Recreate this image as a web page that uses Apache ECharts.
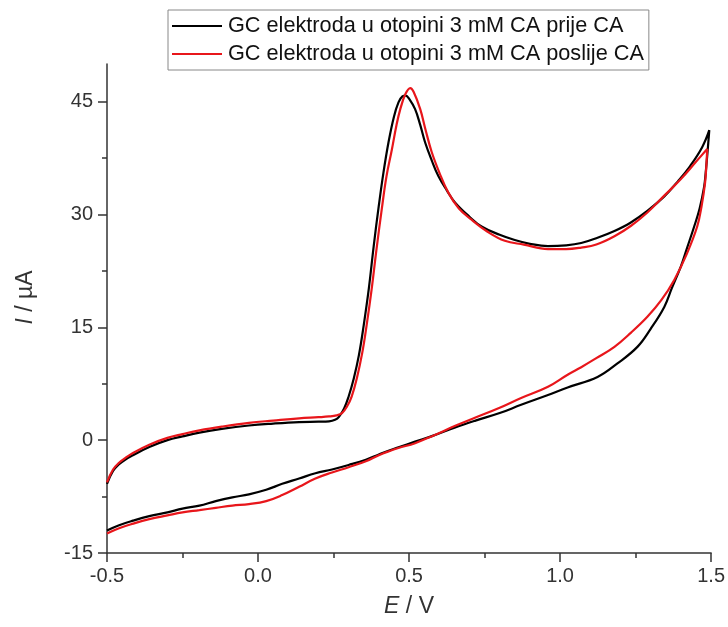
<!DOCTYPE html>
<html>
<head>
<meta charset="utf-8">
<script src="https://cdn.jsdelivr.net/npm/echarts@6/dist/echarts.min.js"></script>
<style>html,body{margin:0;padding:0;background:#fff}#c{width:728px;height:627px}</style>
</head>
<body>
<div id="c"></div>
<script>
// Series names
const seriesNames = ['GC elektroda u otopini 3 mM CA prije CA', 'GC elektroda u otopini 3 mM CA poslije CA'];

// E / V and I / µA pairs, in scan order (anodic sweep, then cathodic return)
const blackCV = [
  [-0.5,-5.8],[-0.48,-4.1],[-0.46,-3.2],[-0.44,-2.6],[-0.414,-2.0],[-0.36,-0.9],[-0.30,0.0],[-0.25,0.5],
  [-0.194,1.0],[-0.12,1.5],[-0.03,1.95],[0.05,2.2],[0.136,2.4],[0.2,2.45],[0.235,2.5],[0.255,2.7],
  [0.268,3.1],[0.285,4.2],[0.30,5.8],[0.317,8.2],[0.334,11.3],[0.35,15.3],[0.367,20.2],[0.383,25.8],
  [0.40,31.2],[0.415,35.5],[0.432,39.6],[0.45,43.0],[0.465,44.9],[0.478,45.7],[0.489,45.8],[0.5,45.4],
  [0.52,44.0],[0.537,41.9],[0.553,39.6],[0.575,37.2],[0.597,35.1],[0.625,33.2],[0.652,31.6],[0.7,29.7],
  [0.74,28.4],[0.8,27.3],[0.85,26.6],[0.9,26.1],[0.96,25.8],[1.02,25.9],[1.07,26.2],[1.124,26.9],
  [1.18,27.8],[1.233,28.9],[1.29,30.5],[1.345,32.4],[1.39,34.4],[1.43,36.4],[1.47,38.9],[1.494,41.2],
  [1.489,38.7],[1.482,35.5],[1.477,33.7],[1.462,30.8],[1.444,28.4],[1.42,25.5],[1.40,23.1],[1.37,20.2],
  [1.345,17.7],[1.30,14.8],[1.256,12.4],[1.19,10.2],[1.124,8.4],[1.025,7.0],[0.96,6.0],[0.871,4.7],
  [0.8,3.6],[0.72,2.6],[0.653,1.7],[0.58,0.6],[0.52,-0.2],[0.465,-0.95],[0.432,-1.4],[0.40,-1.9],
  [0.357,-2.6],[0.30,-3.3],[0.245,-3.9],[0.19,-4.4],[0.136,-5.1],[0.08,-5.8],[0.027,-6.6],[-0.03,-7.2],
  [-0.085,-7.6],[-0.14,-8.1],[-0.194,-8.7],[-0.25,-9.1],[-0.30,-9.6],[-0.36,-10.1],[-0.414,-10.7],
  [-0.46,-11.3],[-0.5,-12.0]
];

const redCV = [
  [-0.5,-5.6],[-0.48,-3.9],[-0.46,-3.0],[-0.44,-2.4],[-0.414,-1.7],[-0.36,-0.6],[-0.30,0.3],[-0.25,0.8],
  [-0.194,1.3],[-0.12,1.8],[-0.03,2.3],[0.05,2.6],[0.136,2.9],[0.2,3.05],[0.235,3.15],[0.26,3.3],
  [0.278,3.6],[0.295,4.5],[0.31,5.8],[0.327,8.2],[0.345,11.6],[0.36,15.4],[0.376,20.0],[0.392,25.3],
  [0.41,30.8],[0.425,35.0],[0.443,38.6],[0.458,41.8],[0.471,44.0],[0.488,46.0],[0.504,46.8],[0.515,46.3],
  [0.537,44.0],[0.555,41.2],[0.575,38.3],[0.6,35.6],[0.63,32.9],[0.665,30.8],[0.707,29.3],[0.76,27.7],
  [0.817,26.5],[0.88,26.0],[0.96,25.4],[1.02,25.4],[1.07,25.6],[1.12,26.0],[1.18,27.1],[1.235,28.5],
  [1.29,30.3],[1.345,32.5],[1.40,34.7],[1.45,37.0],[1.487,38.7],
  [1.485,37.0],[1.48,34.2],[1.468,31.0],[1.454,28.4],[1.42,24.8],[1.378,21.3],[1.335,18.6],[1.289,16.4],
  [1.235,14.3],[1.18,12.4],[1.12,10.9],[1.07,9.7],[1.025,8.7],[0.96,7.1],[0.871,5.6],[0.8,4.3],
  [0.72,3.0],[0.653,1.9],[0.58,0.6],[0.52,-0.4],[0.465,-1.05],[0.432,-1.5],[0.40,-2.0],[0.357,-2.8],
  [0.30,-3.6],[0.245,-4.3],[0.19,-5.1],[0.136,-6.2],[0.08,-7.3],[0.027,-8.1],[-0.03,-8.5],[-0.085,-8.7],
  [-0.14,-9.0],[-0.194,-9.3],[-0.25,-9.6],[-0.30,-10.0],[-0.36,-10.5],[-0.414,-11.1],[-0.46,-11.7],
  [-0.5,-12.4]
];

// Tick values
const yMajorTicks = [-15, 0, 15, 30, 45];
const yMinorTicks = [-7.5, 7.5, 22.5, 37.5];

const FONT = 'Liberation Sans, Arial, Helvetica, sans-serif';
const AX = '#333';

const chart = echarts.init(document.getElementById('c'), null, {renderer: 'canvas'});
chart.setOption({
  animation: false,
  backgroundColor: '#fff',
  textStyle: {fontFamily: FONT},
  grid: {left: 107, right: 14, top: 64, bottom: 74, containLabel: false},
  legend: {
    orient: 'vertical',
    left: 168, top: 10,
    data: seriesNames,
    icon: 'rect',
    borderColor: '#888', borderWidth: 1,
    padding: [5, 5, 5, 4],
    itemGap: 6,
    itemWidth: 50, itemHeight: 2,
    textStyle: {fontSize: 21.7, color: '#111', fontFamily: FONT, padding: [0, 0, 0, 1]}
  },
  xAxis: {
    type: 'value', min: -0.5, max: 1.5, interval: 0.5,
    axisLine: {show: true, onZero: false, lineStyle: {color: AX, width: 1.5}},
    axisTick: {show: true, length: 9, lineStyle: {color: AX, width: 1.5}},
    minorTick: {show: true, splitNumber: 2, length: 5, lineStyle: {color: AX, width: 1.5}},
    splitLine: {show: false},
    axisLabel: {fontSize: 20, color: '#333', margin: 13, formatter: v => v.toFixed(1)},
    name: '{it|E} / V', nameLocation: 'middle', nameGap: 42,
    nameTextStyle: {fontSize: 23, color: '#333', rich: {it: {fontStyle: 'italic', fontSize: 23, color: '#333'}}}
  },
  yAxis: [{
    type: 'value', min: -15, max: 50,
    axisLine: {show: true, onZero: false, lineStyle: {color: AX, width: 1.5}},
    axisTick: {show: true, length: 9, customValues: yMajorTicks, lineStyle: {color: AX, width: 1.5}},
    splitLine: {show: false},
    axisLabel: {fontSize: 20, color: '#333', margin: 14, customValues: yMajorTicks},
    name: '{it|I} / µA', nameLocation: 'middle', nameGap: 70, nameRotate: 90,
    nameTextStyle: {fontSize: 23, color: '#333', padding: [0, 0, 0, 22],
      rich: {it: {fontStyle: 'italic', fontSize: 23, color: '#333'}}}
  }, {
    type: 'value', min: -15, max: 50, position: 'left', offset: 0,
    axisLine: {show: false, onZero: false},
    axisTick: {show: true, length: 5, customValues: yMinorTicks, lineStyle: {color: AX, width: 1.5}},
    splitLine: {show: false},
    axisLabel: {show: false}
  }],
  series: [{
    name: seriesNames[0], type: 'line', data: blackCV, yAxisIndex: 0,
    showSymbol: false, symbol: 'none', smooth: 0.4,
    lineStyle: {color: '#000', width: 2.2}, itemStyle: {color: '#000'}
  }, {
    name: seriesNames[1], type: 'line', data: redCV, yAxisIndex: 0,
    showSymbol: false, symbol: 'none', smooth: 0.4,
    lineStyle: {color: '#e8161b', width: 2.2}, itemStyle: {color: '#e8161b'}
  }]
});
</script>
</body>
</html>
